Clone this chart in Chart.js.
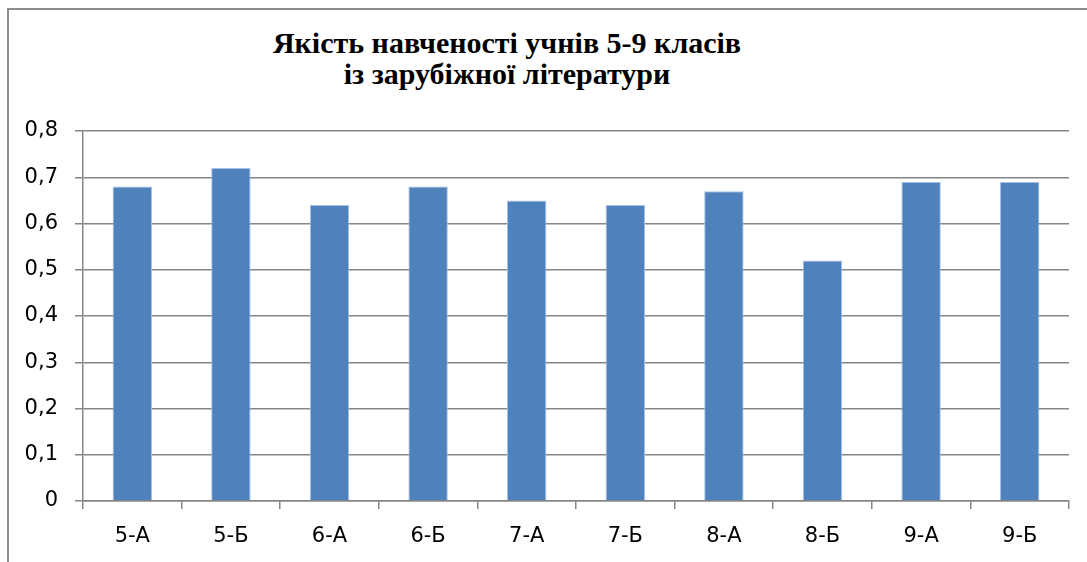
<!DOCTYPE html>
<html>
<head>
<meta charset="utf-8">
<script src="https://cdn.jsdelivr.net/npm/chart.js@4/dist/chart.umd.min.js"></script>
<style>
  body { margin: 0; background: #fff; }
  #wrap { position: relative; width: 1087px; height: 562px; overflow: hidden; }
  #frame { position: absolute; left: 7px; top: 8px; width: 1100px; height: 600px;
           border-left: 2px solid #8c8c8c; border-top: 2px solid #8c8c8c; }
  #titulo { position: absolute; left: 157px; width: 700px; top: 27px; text-align: center;
            font: bold 30px "Liberation Serif", "Times New Roman", serif; line-height: 31px; color: #000; }
  canvas { position: absolute; left: 0; top: 0; }
</style>
</head>
<body>
<div id="wrap">
  <div id="frame"></div>
  <div id="titulo">Якість навченості учнів 5-9 класів<br>із зарубіжної літератури</div>
  <canvas id="grafico" width="1087" height="562"></canvas>
</div>
<script>
const classes = ['5-А', '5-Б', '6-А', '6-Б', '7-А', '7-Б', '8-А', '8-Б', '9-А', '9-Б'];
const qualidade = [0.68, 0.72, 0.64, 0.68, 0.65, 0.64, 0.67, 0.52, 0.69, 0.69];
const yMin = 0, yMax = 0.8, yStep = 0.1;

const fonteEixo = { family: '"DejaVu Sans", sans-serif', size: 21 };

function formataTick(v){
	if (Math.abs(v) < 1e-9) return '0';
	return v.toFixed(1).replace('.', ',');
}

var ctx = document.getElementById('grafico');
var myChart = new Chart(ctx, {
	type: 'bar',
	data: {
		labels: classes,
		datasets: [{
			label: 'Якість',
			data: qualidade,
			backgroundColor: '#4f81bd',
			borderColor: '#a7c2e4',
			borderWidth: 1,
			categoryPercentage: 1,
			barPercentage: 0.4
		}]
	},
	options: {
		responsive: false,
		animation: false,
		layout: { padding: { top: 131, right: 18, left: 0, bottom: 0 } },
		plugins: {
			legend: { display: false },
			title: { display: false },
			tooltip: { enabled: false }
		},
		scales: {
			x: {
				afterFit: (s) => { s.height = 61; },
				grid: { display: true, drawOnChartArea: false, offset: true, color: '#868686', lineWidth: 1.5, tickLength: 8 },
				border: { color: '#868686', width: 1.5 },
				ticks: { color: '#000', font: fonteEixo, padding: 15 }
			},
			y: {
				min: yMin,
				max: yMax,
				afterFit: (s) => { s.width = 83; },
				grid: { color: '#868686', lineWidth: 1.5, tickLength: 8 },
				border: { color: '#868686', width: 1.5 },
				ticks: { stepSize: yStep, color: '#000', font: fonteEixo, padding: 17, callback: (v) => formataTick(v) }
			}
		}
	}
});
</script>
</body>
</html>
